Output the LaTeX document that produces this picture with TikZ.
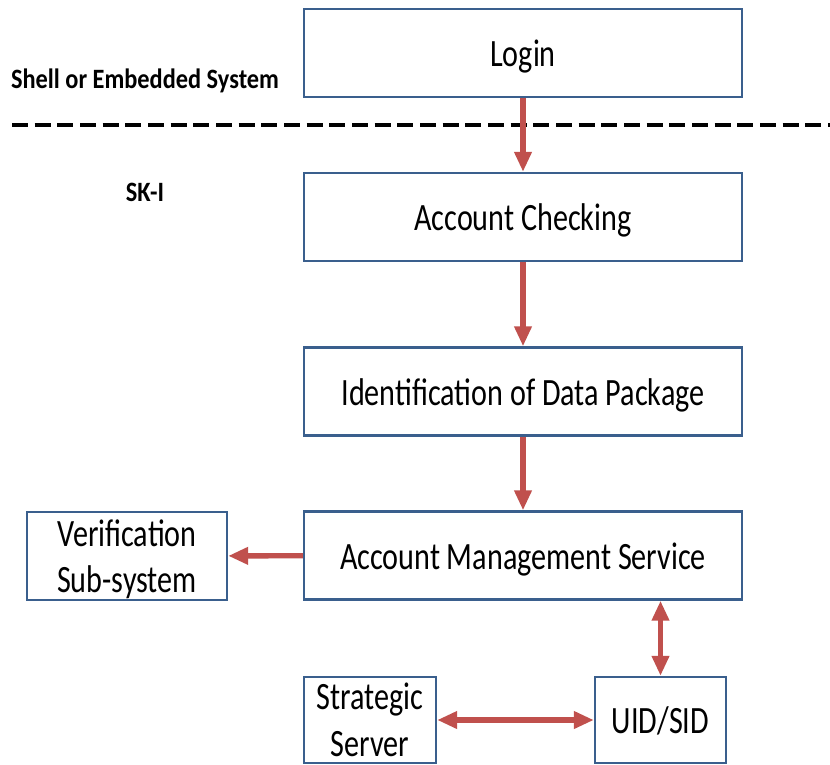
\documentclass[tikz,border=0pt]{standalone}
\usepackage{fontspec}
\setmainfont[FakeStretch=0.78,BoldFeatures={FakeStretch=0.87}]{Carlito}
\usetikzlibrary{arrows.meta,positioning}
\definecolor{SKBorder}{HTML}{3A5F8D}
\definecolor{SKArrow}{HTML}{C0504D}
\definecolor{SKInk}{HTML}{000000}
\tikzset{
  flow/.style={-{Triangle[length=15pt,width=12.5pt]},SKArrow,line width=4pt},
  flowboth/.style={flow,{Triangle[length=15pt,width=12.5pt]}-{Triangle[length=15pt,width=12.5pt]}},
  stage/.style={draw=SKBorder,line width=1.8pt,fill=white,text=SKInk,
                minimum width=328.5pt,minimum height=66pt,inner sep=0pt,
                text height=26pt,text depth=5.5pt,
                font=\fontsize{29}{35}\selectfont,align=center},
  twoline/.style={text height=,text depth=0pt},
  sidebox/.style={stage,twoline,minimum width=150pt},
  smallbox/.style={stage,minimum width=99pt,minimum height=64.5pt},
  layerlabel/.style={text=SKInk,font=\fontsize{21}{25}\selectfont\bfseries,align=center},
  separator/.style={SKInk,line width=3pt,dash pattern=on 12pt off 5pt},
}

\begin{document}
\begin{tikzpicture}[x=0.75pt,y=-0.75pt]
    \fill[white] (0,0) rectangle (830,764);
    \useasboundingbox (0,0) rectangle (830,764);

    % layers
    \node[layerlabel] (shell) at (145,81) {Shell or Embedded System};
    \node[layerlabel] (ski) at (145,192) {SK-I};
    \coordinate (sepL) at (12,125);
    \coordinate (sepR) at (830,125);
    \draw[separator] (sepL) -- (sepR);

    % main chain
    \node[stage] (login) at (523,53) {Login};
    \node[stage] (check) at (523,217) {Account Checking};
    \node[stage] (ident) at (523,391.5) {Identification of Data Package};
    \node[stage] (ams) at (523,555.5) {Account Management Service};

    % side and bottom boxes
    \node[sidebox] (verif) at (127,556) {Verification\\Sub-system};
    \node[smallbox,twoline] (strat) at (370,720) {Strategic\\Server};
    \node[smallbox,minimum width=98.25pt] (uid) at (660.5,720) {UID/SID};

    \draw[flow] (login) -- (check);
    \draw[flow] (check) -- (ident);
    \draw[flow] (ident) -- (ams);
    \draw[flow] (ams) -- (verif);
    \draw[flowboth] (uid.north |- ams.south) -- (uid.north);
    \draw[flowboth] (strat) -- (uid);
\end{tikzpicture}
\end{document}
